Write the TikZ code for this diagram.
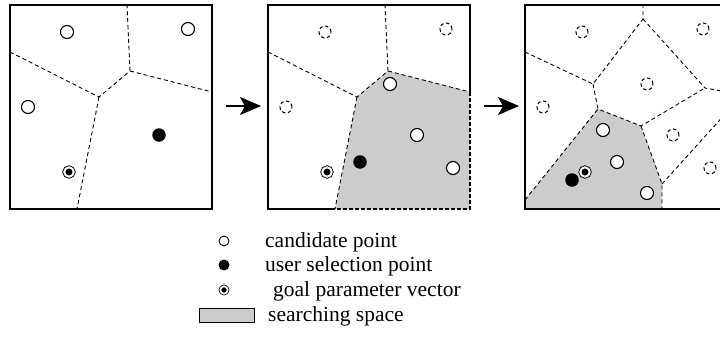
\documentclass[tikz,border=0pt]{standalone}
\usepackage{fontspec}
\setmainfont{Liberation Serif}
\usetikzlibrary{positioning,arrows.meta}

\begin{document}
\begin{tikzpicture}[x=1pt,y=-1pt,
	cand/.style={circle, draw, fill=white, line width=1.1pt, minimum size=13pt, inner sep=0pt},
	ghost/.style={circle, draw, dash pattern=on 3.5pt off 2.5pt, line width=1pt, minimum size=12pt, inner sep=0pt},
	user/.style={circle, fill=black, minimum size=13.5pt, inner sep=0pt},
	goal/.style={circle, draw, fill=black, double=white, double distance=2pt, line width=0.9pt, minimum size=9.4pt, inner sep=0pt},
	cell/.style={dash pattern=on 4pt off 3pt, line width=0.9pt},
	celledge/.style={dash pattern=on 4pt off 2pt, line width=1.2pt},
	frame/.style={line width=2.6pt, line join=miter},
	space/.style={fill=black!20},
	nextarrow/.style={-{Stealth[length=21pt,width=18pt,inset=5pt]}, line width=1.6pt},
	legend/.style={anchor=base west, inner sep=0pt, font=\fontsize{21.5}{26}\selectfont}]
	\useasboundingbox (0,0) rectangle (720,356);
	\clip (0,0) rectangle (720,356);
	
	% first step
	\coordinate (l1) at (10,52);
	\coordinate (a1) at (99,97);
	\coordinate (b1) at (130,71);
	\coordinate (t1) at (127,5);
	\coordinate (r1) at (212,92);
	\coordinate (d1) at (77,209);
	\draw[cell] (l1) -- (a1) -- (b1) -- (t1);
	\draw[cell] (b1) -- (r1);
	\draw[cell] (a1) -- (d1);
	\draw[frame] (10,5) rectangle (212,209);
	\node[cand] (c1a) at (67,32) {};
	\node[cand] (c1b) at (188,29) {};
	\node[cand] (c1c) at (28,107) {};
	\node[user] (u1) at (159,135) {};
	\node[goal] (g1) at (69,172) {};
	
	% second step
	\begin{scope}[xshift=258pt]
		\coordinate (l2) at (10,52);
		\coordinate (a2) at (99,97);
		\coordinate (b2) at (130,71);
		\coordinate (t2) at (127,5);
		\coordinate (r2) at (212,92);
		\coordinate (d2) at (77,209);
		\coordinate (br2) at (212,209);
		\coordinate (bl2) at (10,209);
		\coordinate (tl2) at (10,5);
		\coordinate (tr2) at (212,5);
		\fill[space] (a2) -- (b2) -- (r2) -- (br2) -- (d2) -- cycle;
		\draw[cell] (l2) -- (a2) -- (b2) -- (t2);
		\draw[cell] (b2) -- (r2);
		\draw[cell] (a2) -- (d2);
		\draw[frame] (d2) -- (bl2) -- (tl2) -- (tr2) -- (r2);
		\draw[celledge] (r2) -- (br2) -- (d2);
		\node[ghost] (h2a) at (67,32) {};
		\node[ghost] (h2b) at (188,29) {};
		\node[ghost] (h2c) at (28,107) {};
		\node[cand] (c2a) at (132,84) {};
		\node[cand] (c2b) at (159,135) {};
		\node[cand] (c2c) at (195,168) {};
		\node[user] (u2) at (102,162) {};
		\node[goal] (g2) at (69,172) {};
	\end{scope}
	
	% third step
	\begin{scope}[xshift=515pt]
		\coordinate (l3) at (10,52);
		\coordinate (c3) at (78,84);
		\coordinate (d3) at (128,19);
		\coordinate (t3) at (128,5);
		\coordinate (e3) at (190,88);
		\coordinate (r3) at (212,92);
		\coordinate (f3) at (83,109);
		\coordinate (g3) at (126,126);
		\coordinate (h3) at (147,184);
		\coordinate (s3) at (212,112);
		\coordinate (b3) at (147,209);
		\coordinate (m3) at (10,200);
		\coordinate (bl3) at (10,209);
		\fill[space] (m3) -- (f3) -- (g3) -- (h3) -- (b3) -- (bl3) -- cycle;
		\draw[cell] (l3) -- (c3) -- (d3) -- (t3);
		\draw[cell] (d3) -- (e3) -- (r3);
		\draw[cell] (c3) -- (f3) -- (g3) -- (e3);
		\draw[cell] (g3) -- (h3) -- (b3);
		\draw[cell] (h3) -- (s3);
		\draw[cell] (m3) -- (f3);
		\draw[frame] (10,5) rectangle (212,209);
		\node[ghost] (h3a) at (67,32) {};
		\node[ghost] (h3b) at (188,29) {};
		\node[ghost] (h3c) at (28,107) {};
		\node[ghost] (h3d) at (132,84) {};
		\node[ghost] (h3e) at (158,135) {};
		\node[ghost] (h3f) at (195,168) {};
		\node[cand] (c3a) at (88,130) {};
		\node[cand] (c3b) at (102,162) {};
		\node[cand] (c3c) at (132,193) {};
		\node[user] (u3) at (57,180) {};
		\node[goal] (g3p) at (70,172) {};
	\end{scope}
	
	% arrows between steps
	\coordinate (s1) at (226,106);
	\coordinate (e1) at (261,106);
	\coordinate (s2) at (484,106);
	\coordinate (e2) at (519,106);
	\draw[nextarrow] (s1) -- (e1);
	\draw[nextarrow] (s2) -- (e2);
	
	% legend
	\node[cand, minimum size=10pt, line width=0.9pt] (lc) at (224,241) {};
	\node[user, minimum size=11pt] (lu) at (224,265) {};
	\node[goal, minimum size=7.4pt, double distance=1.7pt, line width=0.8pt] (lg) at (224,290) {};
	\node[space, draw, line width=0.8pt, minimum width=55pt, minimum height=14pt, inner sep=0pt] (ls) at (226.5,315) {};
	\node[legend] (tc) at (265,247) {candidate point};
	\node[legend] (tu) at (265,271) {user selection point};
	\node[legend] (tg) at (273,296) {goal parameter vector};
	\node[legend] (ts) at (268,321) {searching space};
\end{tikzpicture}
\end{document}
